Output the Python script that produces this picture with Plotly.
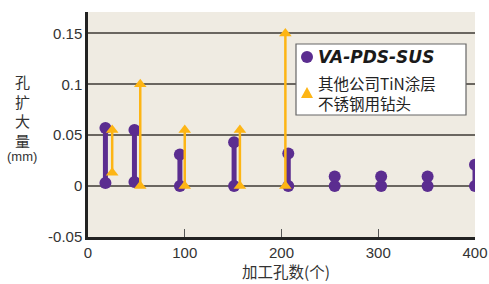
import plotly.graph_objects as go

# VA-PDS-SUS: x, low value, high value
va_x = [18, 48, 95, 151, 207, 255, 303, 351, 400]
va_lo = [0.003, 0.004, 0.0, 0.0, 0.0, 0.0, 0.0, 0.0, 0.0]
va_hi = [0.057, 0.055, 0.031, 0.043, 0.032, 0.0095, 0.0095, 0.0095, 0.021]

# Other company's TiN-coated drill
tin_x = [25, 54, 100, 157, 204]
tin_lo = [0.013, 0.0, 0.0, 0.0, 0.0]
tin_hi = [0.055, 0.1, 0.055, 0.055, 0.15]

x_ticks = [0, 100, 200, 300, 400]
y_ticks = [-0.05, 0, 0.05, 0.1, 0.15]
y_ticktext = ["-0.05", "0", "0.05", "0.1", "0.15"]

series_names = ["VA-PDS-SUS", "其他公司TiN涂层<br>不锈钢用钻头"]

PURPLE = "#5B2D90"
ORANGE = "#FDB515"
NUM_FONT = "Liberation Sans, Arial, sans-serif"
CJK_FONT = "Noto Sans CJK SC, sans-serif"

W, H = 489, 284
L, R, T, B = 88, 14, 12, 47
PW, PH = W - L - R, H - T - B


def px(x):
    return (x - L) / PW


def py(y):
    return (H - B - y) / PH


def segs(xs, lo, hi):
    sx, sy = [], []
    for x, a, b in zip(xs, lo, hi):
        sx += [x, x, None]
        sy += [a, b, None]
    return sx, sy


fig = go.Figure()

vx, vy = segs(va_x, va_lo, va_hi)
fig.add_trace(go.Scatter(x=vx, y=vy, mode="lines", line=dict(color=PURPLE, width=5),
                         showlegend=False, hoverinfo="skip"))
fig.add_trace(go.Scatter(x=va_x + va_x, y=va_lo + va_hi, mode="markers",
                         marker=dict(color=PURPLE, size=12, symbol="circle"),
                         showlegend=False, name=series_names[0]))

tx, ty = segs(tin_x, tin_lo, tin_hi)
fig.add_trace(go.Scatter(x=tx, y=ty, mode="lines", line=dict(color=ORANGE, width=2.5),
                         showlegend=False, hoverinfo="skip"))
fig.add_trace(go.Scatter(x=tin_x + tin_x, y=tin_lo + tin_hi, mode="markers",
                         marker=dict(color=ORANGE, size=11, symbol="triangle-up"),
                         showlegend=False, name=series_names[1]))

fig.update_layout(
    width=W, height=H,
    margin=dict(l=L, r=R, t=T, b=B),
    paper_bgcolor="white",
    plot_bgcolor="#EFEBE2",
    font=dict(family=NUM_FONT, size=15, color="#333333"),
    showlegend=False,
    xaxis=dict(range=[0, 400], tickvals=x_ticks, ticktext=[str(v) for v in x_ticks],
               showgrid=False, zeroline=False, showline=True, linecolor="#222222",
               linewidth=2.5, ticks="inside", ticklen=8, tickcolor="#555555",
               automargin=False,
               tickfont=dict(family=NUM_FONT, size=15, color="#333333")),
    yaxis=dict(range=[-0.05, 0.171], tickvals=y_ticks, ticktext=y_ticktext,
               showgrid=True, gridcolor="#6A6660", gridwidth=1.5, zeroline=False,
               showline=True, linecolor="#222222", linewidth=2.5, ticks="",
               automargin=False,
               tickfont=dict(family=NUM_FONT, size=15, color="#333333")),
)

# manual legend box
fig.add_shape(type="rect", xref="paper", yref="paper",
              x0=px(296), x1=px(466), y0=py(115), y1=py(44),
              fillcolor="white", line=dict(color="#666666", width=1.2), layer="above")
fig.add_shape(type="circle", xref="paper", yref="paper", xsizemode="pixel", ysizemode="pixel",
              xanchor=px(307), yanchor=py(57), x0=-6, x1=6, y0=-6, y1=6,
              fillcolor=PURPLE, line=dict(width=0), layer="above")
fig.add_shape(type="path", xref="paper", yref="paper", xsizemode="pixel", ysizemode="pixel",
              xanchor=px(307), yanchor=py(93), path="M -6 -5 L 6 -5 L 0 6 Z",
              fillcolor=ORANGE, line=dict(width=0), layer="above")
fig.add_annotation(text="<b><i>" + series_names[0] + "</i></b>", xref="paper", yref="paper",
                   x=px(316), xanchor="left", y=py(57), yanchor="middle", showarrow=False,
                   font=dict(family="DejaVu Sans, sans-serif", size=17, color="#1a1a1a"))
fig.add_annotation(text=series_names[1], xref="paper", yref="paper", align="left",
                   x=px(316), xanchor="left", y=py(93), yanchor="middle", showarrow=False,
                   font=dict(family=CJK_FONT, size=15.5, color="#222222"))

# axis titles
fig.add_annotation(text="孔<br>扩<br>大<br>量", xref="paper", yref="paper", x=px(22),
                   xanchor="center", y=py(111), yanchor="middle", showarrow=False,
                   font=dict(family=CJK_FONT, size=15, color="#333333"))
fig.add_annotation(text="(mm)", xref="paper", yref="paper", x=px(22), xanchor="center",
                   y=py(157), yanchor="middle", showarrow=False,
                   font=dict(family=NUM_FONT, size=13, color="#333333"))
fig.add_annotation(text="加工孔数(个)", xref="paper", yref="paper", x=px(286),
                   xanchor="center", y=py(271), yanchor="middle", showarrow=False,
                   font=dict(family=CJK_FONT, size=15.5, color="#333333"))

fig.write_html("out.html", config={"displayModeBar": False},
               post_script="document.body.style.margin='0';document.body.style.padding='0';")
